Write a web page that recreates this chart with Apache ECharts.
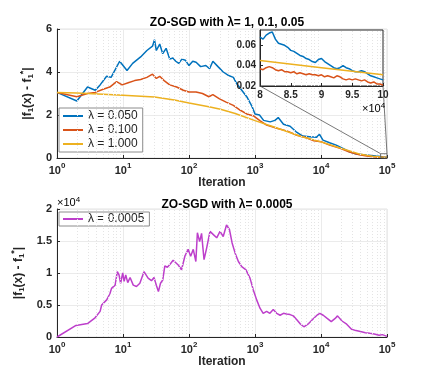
<!DOCTYPE html>
<html>
<head>
<meta charset="utf-8">
<script src="https://cdn.jsdelivr.net/npm/echarts@6/dist/echarts.min.js"></script>
<style>
  html, body { margin: 0; padding: 0; background: #fff; }
  #chart { width: 428px; height: 380px; }
</style>
</head>
<body>
<div id="chart"></div>
<script>
// ---- data ----
const blueX = [1, 2, 2.9, 3.8, 4.5, 5.65, 6.6, 8.9, 11.5, 14, 18.5, 23, 28, 30, 32, 36, 40, 45, 51, 57, 63, 70, 78, 88, 100, 114, 128, 150, 180, 205, 230, 275, 330, 390, 470, 530, 630, 750, 900, 1000, 1170, 1350, 1700, 2000, 2250, 2700, 3400, 4200, 5300, 6700, 8500, 9500, 10700, 13500, 17000, 21500, 27000, 34000, 48000, 68000];
const blueY = [3.05, 2.65, 3.3, 3.15, 3.4, 3.8, 3.75, 4.5, 4.07, 4.4, 4.7, 5.0, 5.2, 5.5, 5.0, 5.3, 4.85, 5.1, 4.6, 4.65, 4.5, 4.4, 4.6, 4.55, 4.3, 4.5, 4.45, 4.25, 4.3, 4.15, 4.5, 4.25, 4.0, 3.85, 3.75, 3.45, 3.15, 2.85, 2.4, 2.05, 2.0, 1.75, 1.68, 1.75, 1.88, 1.57, 1.48, 1.22, 1.02, 0.99, 0.96, 1.1, 0.83, 0.71, 0.6, 0.45, 0.29, 0.19, 0.14, 0.09];
const redX = [1, 2, 2.9, 3.8, 5, 6.3, 8, 9.7, 12, 15, 18.5, 23, 28, 30, 32, 36, 42, 51, 65, 82, 100, 128, 160, 200, 230, 290, 365, 470, 600, 750, 960, 1200, 1500, 2200, 3100, 4300, 6000, 7800, 10000, 13500, 19500, 27000, 38000, 52000, 70000];
const redY = [3.05, 2.85, 3.0, 3.05, 3.2, 3.3, 3.55, 3.4, 3.5, 3.6, 3.65, 3.75, 3.9, 3.92, 3.7, 3.8, 3.6, 3.4, 3.3, 3.15, 3.07, 3.07, 3.0, 2.85, 2.95, 2.75, 2.6, 2.45, 2.22, 2.05, 1.95, 1.73, 1.53, 1.37, 1.25, 1.06, 0.94, 0.8, 0.76, 0.6, 0.45, 0.28, 0.15, 0.08, 0.05];
const yellowX = [1, 2, 5, 10, 30, 60, 100, 200, 300, 500, 1000, 2000, 5000, 10000, 20000, 40000, 60000];
const yellowY = [3.05, 3.02, 2.97, 2.92, 2.84, 2.7, 2.56, 2.38, 2.27, 2.07, 1.74, 1.43, 1.0, 0.75, 0.45, 0.17, 0.08];

// tail 8e4 .. 1e5 (shown in the inset)
const tailX = [80000, 80500, 81000, 81500, 82000, 82500, 83000, 83500, 84000, 84500, 85000, 85500, 86000, 86500, 87000, 87500, 88000, 88500, 89000, 89500, 90000, 90500, 91000, 91500, 92000, 92500, 93000, 93500, 94000, 94500, 95000, 95500, 96000, 96500, 97000, 97500, 98000, 98500, 99000, 99500, 100000];
const blueTail = [0.068, 0.066, 0.070, 0.072, 0.073, 0.066, 0.062, 0.061, 0.060, 0.058, 0.055, 0.054, 0.052, 0.050, 0.049, 0.047, 0.046, 0.044, 0.043, 0.046, 0.047, 0.044, 0.042, 0.040, 0.038, 0.037, 0.038, 0.040, 0.038, 0.037, 0.035, 0.034, 0.034, 0.035, 0.034, 0.032, 0.030, 0.029, 0.028, 0.027, 0.026];
const redTail = [0.037, 0.036, 0.038, 0.039, 0.038, 0.036, 0.035, 0.036, 0.034, 0.034, 0.033, 0.034, 0.032, 0.033, 0.032, 0.031, 0.032, 0.031, 0.031, 0.030, 0.031, 0.029, 0.030, 0.029, 0.028, 0.030, 0.029, 0.027, 0.026, 0.027, 0.026, 0.027, 0.026, 0.025, 0.026, 0.024, 0.023, 0.024, 0.022, 0.022, 0.021];
const yellowTailX = [80000, 90000, 100000];
const yellowTail = [0.045, 0.038, 0.031];

const purpleX = [1, 1.94, 2.9, 3.77, 4.5, 4.75, 5.66, 6.35, 6.7, 7.6, 8.2, 8.7, 9.2, 9.9, 10.4, 11, 11.8, 12.8, 14.3, 16, 18, 20.8, 24, 27, 29.5, 32, 34.4, 37, 40, 43, 47, 52, 57.5, 61, 68, 77, 87, 97, 106, 116, 127, 134, 145, 155, 169, 185, 208, 234, 263, 295, 330, 370, 410, 450, 500, 560, 630, 730, 840, 940, 1060, 1190, 1260, 1330, 1500, 1680, 1890, 2130, 2400, 2700, 3000, 3400, 3800, 4300, 4800, 5500, 6500, 7700, 8700, 9600, 10800, 12400, 14300, 16400, 17800, 20800, 24500, 29000, 34000, 41000, 47000, 55000, 64000, 76000, 85000, 100000];
const purpleY = [0, 1800, 2100, 3000, 4000, 5000, 5800, 6800, 7600, 8100, 10200, 9700, 8400, 10000, 8700, 9700, 8500, 9300, 8100, 7900, 8400, 10200, 9200, 8800, 9300, 8100, 7100, 8400, 8900, 11100, 10900, 11400, 12000, 12300, 11300, 10500, 12700, 13700, 12600, 13700, 11800, 16300, 14900, 16200, 12100, 13900, 16500, 16000, 15500, 16500, 15700, 17500, 16800, 14700, 13100, 11800, 11000, 10500, 9200, 7400, 5800, 4500, 4200, 3700, 4000, 3700, 4300, 3700, 3400, 3700, 3600, 3500, 3300, 2700, 2100, 1600, 2100, 2900, 3400, 3700, 3400, 2900, 2400, 2900, 3300, 2500, 2000, 1200, 1000, 830, 680, 570, 470, 260, 370, 100];

const topNames = ['λ = 0.050', 'λ = 0.100', 'λ = 1.000'];
const bottomName = 'λ = 0.0005';
const zoomBox = [80000, 100000, 0, 0.2];

const FONT = 'Liberation Sans';
const DARK = '#262626';
const colors = { blue: '#0072BD', red: '#D95319', yellow: '#EDB120', purple: '#BD3FCB' };

const zip = (xs, ys) => xs.map((x, i) => [x, ys[i]]);

// dotted minor grid at 2..9 of each decade
const minorGrid = [];
for (let e = 0; e < 5; e++) {
  for (let k = 2; k <= 9; k++) minorGrid.push({ xAxis: k * Math.pow(10, e) });
}
const minorMark = {
  silent: true, symbol: 'none', label: { show: false },
  lineStyle: { color: '#e4e4e4', type: [1, 2], width: 1 },
  data: minorGrid, animation: false
};

const logAxis = (gridIndex) => ({
  type: 'log', logBase: 10, min: 1, max: 100000, gridIndex,
  name: 'Iteration', nameLocation: 'middle', nameGap: 17,
  nameTextStyle: { fontFamily: FONT, fontWeight: 'bold', fontSize: 12, color: DARK },
  axisLine: { lineStyle: { color: DARK } },
  axisTick: { inside: true, length: 3, lineStyle: { color: DARK } },
  splitLine: { show: true, lineStyle: { color: '#ebebeb' } },
  axisLabel: {
    margin: 4,
    formatter: v => '{b|10}{s|' + Math.round(Math.log10(v)) + '}',
    rich: {
      b: { fontFamily: FONT, fontWeight: 'bold', fontSize: 11, color: DARK, verticalAlign: 'bottom' },
      s: { fontFamily: FONT, fontWeight: 'bold', fontSize: 8, color: DARK, verticalAlign: 'bottom', padding: [0, 0, 6, 0] }
    }
  }
});

const yName = '{n||f}{d|1}{n|(x) - f}{d|1}{u|*}{n||}';
const yNameRich = {
  n: { fontFamily: FONT, fontWeight: 'bold', fontSize: 12, color: DARK },
  d: { fontFamily: FONT, fontWeight: 'bold', fontSize: 8, color: DARK, padding: [7, 0, 0, 0] },
  u: { fontFamily: FONT, fontWeight: 'bold', fontSize: 9, color: DARK, padding: [0, 0, 7, 0] }
};

const valAxis = (gridIndex, max, interval, fmt, nameGap) => ({
  type: 'value', gridIndex, min: 0, max, interval,
  name: yName, nameLocation: 'middle', nameGap, nameRotate: 90,
  nameTextStyle: { rich: yNameRich },
  axisLine: { show: true, lineStyle: { color: DARK } },
  axisTick: { show: true, inside: true, length: 3, lineStyle: { color: DARK } },
  splitLine: { show: true, lineStyle: { color: '#ebebeb' } },
  axisLabel: { margin: 5, formatter: fmt, fontFamily: FONT, fontWeight: 'bold', fontSize: 11, color: DARK }
});

const legendBase = {
  orient: 'vertical', icon: 'rect', itemWidth: 20, itemHeight: 2, itemGap: 2,
  backgroundColor: '#fff', borderColor: '#8c8c8c', borderWidth: 1,
  textStyle: { fontFamily: FONT, fontSize: 12, color: DARK },
  selectedMode: false
};

const lineSeries = (name, data, color, xi, yi, extra) => Object.assign({
  type: 'line', name, data, xAxisIndex: xi, yAxisIndex: yi,
  showSymbol: false, symbol: 'none', animation: false,
  lineStyle: { color, width: 1.5 }, itemStyle: { color }
}, extra || {});

const chart = echarts.init(document.getElementById('chart'), null, { renderer: 'canvas' });

const supRich = {
  t: { fontFamily: FONT, fontSize: 11, color: '#404040' },
  s: { fontFamily: FONT, fontSize: 8, color: '#404040', padding: [0, 0, 6, 0] }
};

chart.setOption({
  animation: false,
  title: [
    { text: 'ZO-SGD with λ= 1, 0.1, 0.05', left: 222, top: 12, textAlign: 'center',
      textStyle: { fontFamily: FONT, fontWeight: 'bold', fontSize: 12, color: '#000' } },
    { text: 'ZO-SGD with λ= 0.0005', left: 222, top: 194, textAlign: 'center',
      textStyle: { fontFamily: FONT, fontWeight: 'bold', fontSize: 12, color: '#000' } }
  ],
  grid: [
    { left: 57, top: 29, width: 330, height: 129, show: true, borderColor: '#e3e3e3', borderWidth: 1 },
    { left: 57, top: 209, width: 330, height: 128, show: true, borderColor: '#e3e3e3', borderWidth: 1 },
    { left: 260, top: 30, width: 123, height: 56, show: true, backgroundColor: '#fff', borderColor: DARK, borderWidth: 1, z: 5 }
  ],
  xAxis: [
    logAxis(0),
    logAxis(1),
    {
      type: 'value', gridIndex: 2, min: 80000, max: 100000, interval: 5000, z: 6,
      axisLine: { lineStyle: { color: DARK } },
      axisTick: { inside: true, length: 3, lineStyle: { color: DARK } },
      splitLine: { show: false },
      axisLabel: { margin: 4, formatter: v => String(v / 10000), fontFamily: FONT, fontWeight: 'bold', fontSize: 10, color: DARK }
    }
  ],
  yAxis: [
    valAxis(0, 6, 2, v => String(v), 15),
    valAxis(1, 20000, 5000, v => String(v / 10000), 24),
    {
      type: 'value', gridIndex: 2, min: 0.02, max: 0.075, interval: 0.02, z: 6,
      axisLine: { show: true, lineStyle: { color: DARK } },
      axisTick: { show: true, inside: true, length: 3, lineStyle: { color: DARK } },
      splitLine: { show: false },
      axisLabel: { margin: 4, showMaxLabel: false,
        formatter: v => (v > 0.07 ? '' : v.toFixed(2)),
        fontFamily: FONT, fontWeight: 'bold', fontSize: 10, color: DARK }
    }
  ],
  legend: [
    Object.assign({}, legendBase, { data: topNames, left: 59, top: 108, padding: [2, 5, 2, 4] }),
    Object.assign({}, legendBase, { data: [bottomName], left: 59, top: 212, padding: [1, 5, 1, 4] })
  ],
  series: [
    lineSeries(topNames[0], zip(blueX.concat(tailX), blueY.concat(blueTail)), colors.blue, 0, 0, { markLine: minorMark }),
    lineSeries(topNames[1], zip(redX.concat(tailX), redY.concat(redTail)), colors.red, 0, 0),
    lineSeries(topNames[2], zip(yellowX.concat(yellowTailX), yellowY.concat(yellowTail)), colors.yellow, 0, 0),
    lineSeries(bottomName, zip(purpleX, purpleY), colors.purple, 1, 1, { markLine: minorMark }),
    lineSeries('inset blue', zip(tailX, blueTail), colors.blue, 2, 2, { z: 7 }),
    lineSeries('inset red', zip(tailX, redTail), colors.red, 2, 2, { z: 7 }),
    lineSeries('inset yellow', zip(yellowTailX, yellowTail), colors.yellow, 2, 2, { z: 7 })
  ]
});

// zoom box + connector lines + exponent notes
const p = (g, x, y) => chart.convertToPixel({ gridIndex: g }, [x, y]);
const bl = p(0, zoomBox[0], zoomBox[2]);
const tr = p(0, zoomBox[1], zoomBox[3]);
const insBL = p(2, 80000, 0.02);
const insBR = p(2, 100000, 0.02);
const grey = { stroke: '#555', lineWidth: 0.8, fill: null };

chart.setOption({
  graphic: [
    { id: 'box', type: 'rect', z: 10, shape: { x: bl[0], y: tr[1], width: tr[0] - bl[0], height: bl[1] - tr[1] }, style: grey },
    { id: 'l1', type: 'line', z: 10, shape: { x1: insBL[0], y1: insBL[1], x2: bl[0], y2: tr[1] }, style: grey },
    { id: 'l2', type: 'line', z: 10, shape: { x1: insBR[0], y1: insBR[1], x2: tr[0], y2: tr[1] }, style: grey },
    { id: 'e1', type: 'text', z: 10, x: 362, y: 102, style: { text: '{t|×10}{s|4}', rich: supRich } },
    { id: 'e2', type: 'text', z: 10, x: 57, y: 196, style: { text: '{t|×10}{s|4}', rich: supRich } }
  ]
});

window.addEventListener('resize', () => chart.resize());
</script>
</body>
</html>
